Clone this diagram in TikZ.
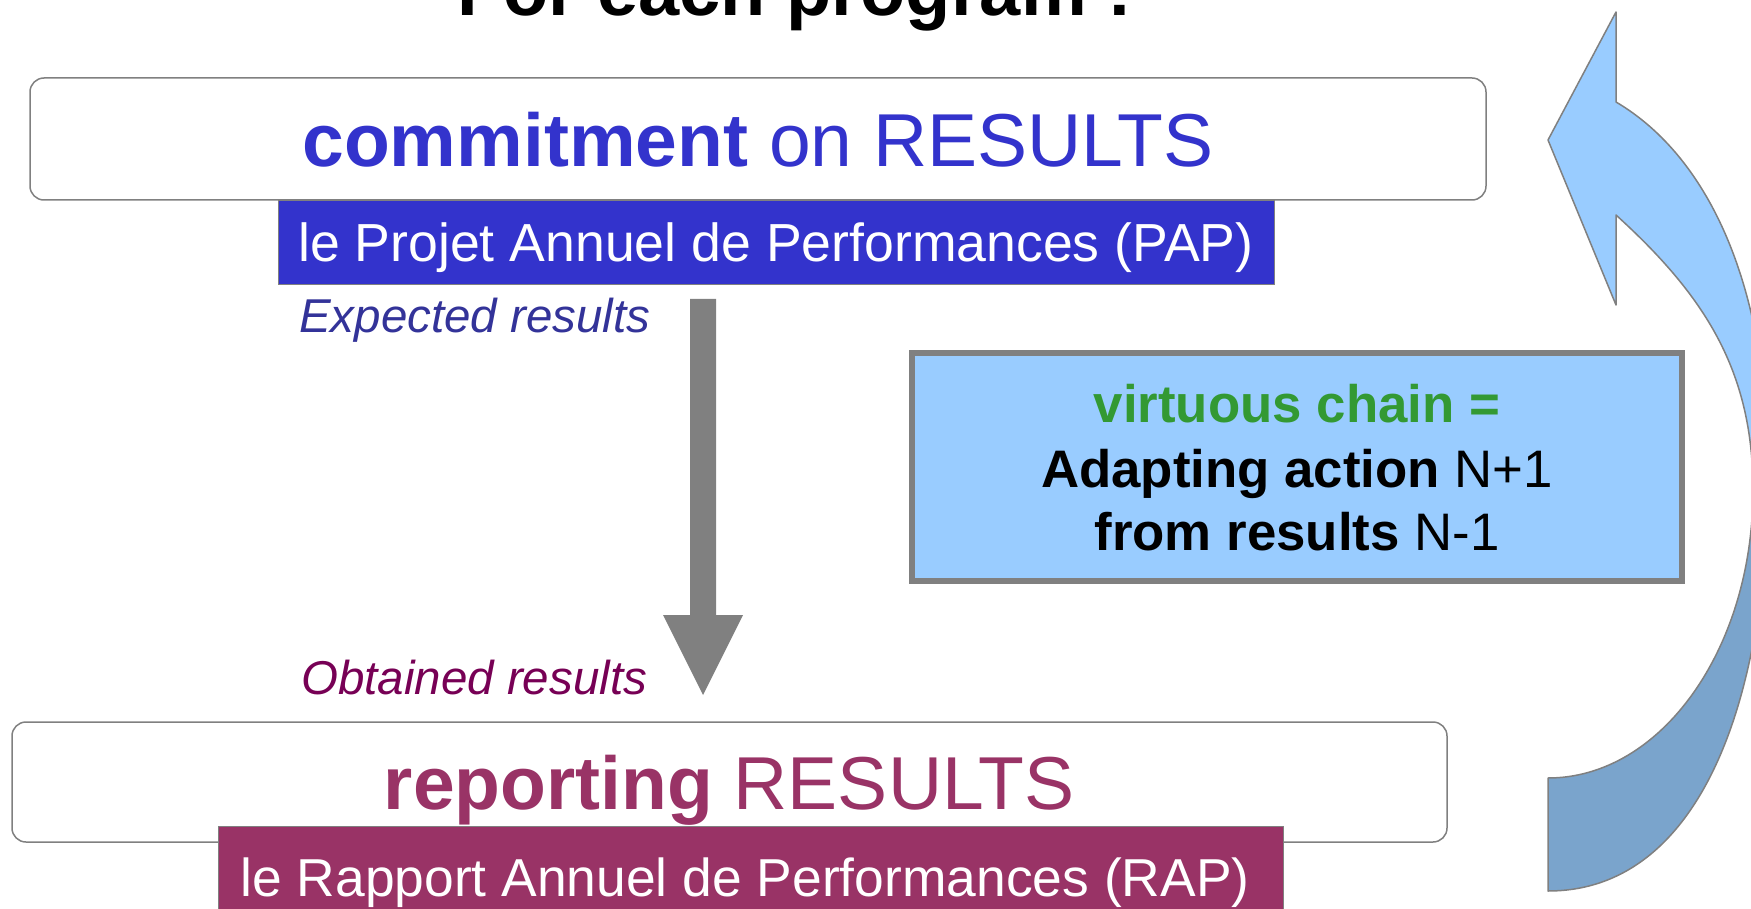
\documentclass[tikz,border=0pt]{standalone}
\usepackage{fontspec}
\setmainfont{Liberation Sans}
\definecolor{pblue}{HTML}{3333CC}
\definecolor{eblue}{HTML}{333399}
\definecolor{plum}{HTML}{993366}
\definecolor{oplum}{HTML}{770055}
\definecolor{vgreen}{HTML}{339933}
\definecolor{lblue}{HTML}{99CCFF}
\definecolor{dblue}{HTML}{7AA4CC}
\definecolor{lgray}{HTML}{808080}
\newcommand\setfs[1]{\fontsize{#1}{#1}\selectfont}
\tikzset{
  roundbox/.style={draw=lgray, line width=1.5pt, rounded corners=14pt, inner sep=0pt, fill=white},
  band/.style={draw=lgray, line width=1pt, inner sep=0pt},
  txt/.style={inner sep=0pt, anchor=base},
}
\begin{document}
\begin{tikzpicture}[x=1pt,y=-1pt]
\useasboundingbox (0,0) rectangle (1751,909);
\clip (0,0) rectangle (1751,909);
\fill[white] (0,0) rectangle (1751,909);

% title
\node[txt] (title) at (795,16) {\setfs{74}\bfseries For each program :};

% top box
\node[roundbox, minimum width=1456pt, minimum height=122pt] (topbox) at (758,139) {};
\node[txt, text=pblue] (toptext) at (758,167) {\setfs{75}\textbf{commitment} on RESULTS};
\node[band, fill=pblue, minimum width=996pt, minimum height=84pt] (pap) at (776,243) {};
\node[txt, text=white] (paptext) at (776,262) {\setfs{53.6}le Projet Annuel de Performances (PAP)};

\node[txt, anchor=base west, text=eblue] (expected) at (299,333) {\setfs{47.5}\itshape Expected results};
\node[txt, anchor=base west, text=oplum] (obtained) at (301,694) {\setfs{47.5}\itshape Obtained results};

% down arrow
\fill[lgray] (690,299) -- (716,299) -- (716,615) -- (743,615) -- (703,695) -- (663,615) -- (690,615) -- cycle;

% bottom box
\node[roundbox, minimum width=1435pt, minimum height=120pt] (botbox) at (729.5,782) {};
\node[txt, text=plum] (bottext) at (729,809) {\setfs{75}\textbf{reporting} RESULTS};
\node[band, fill=plum, minimum width=1065pt, minimum height=134pt] (rap) at (750.5,893) {};
\node[txt, text=white] (raptext) at (745,896) {\setfs{53.4}le Rapport Annuel de Performances (RAP)};

% virtuous chain box
\node[draw=lgray, line width=6pt, fill=lblue, minimum width=770pt, minimum height=228pt, inner sep=0pt] (chain) at (1297,467) {};
\node[txt, text=vgreen] (chain1) at (1297,422) {\setfs{52.8}\bfseries virtuous chain =};
\node[txt] (chain2) at (1297,487) {\setfs{52.8}\textbf{Adapting action} N+1};
\node[txt] (chain3) at (1297,550) {\setfs{52.8}\textbf{from results} N-1};

% curved arrow
\def\looparrow{(1548,778) -- (1548,891)
  .. controls (1700,891) and (1768,700) .. (1768,470)
  .. controls (1768,290) and (1711,158) .. (1616,102)
  -- (1616,12) -- (1548,140) -- (1616,305) -- (1616,215)
  .. controls (1704,295) and (1753,370) .. (1753,490)
  .. controls (1753,649) and (1661,778) .. (1548,778)
  -- cycle}
\fill[lblue] \looparrow;
\begin{scope}
  \clip (1500,500) rectangle (1800,909);
  \fill[dblue] \looparrow;
\end{scope}
\draw[lgray, line width=1.5pt, line join=round] \looparrow;
\end{tikzpicture}
\end{document}
